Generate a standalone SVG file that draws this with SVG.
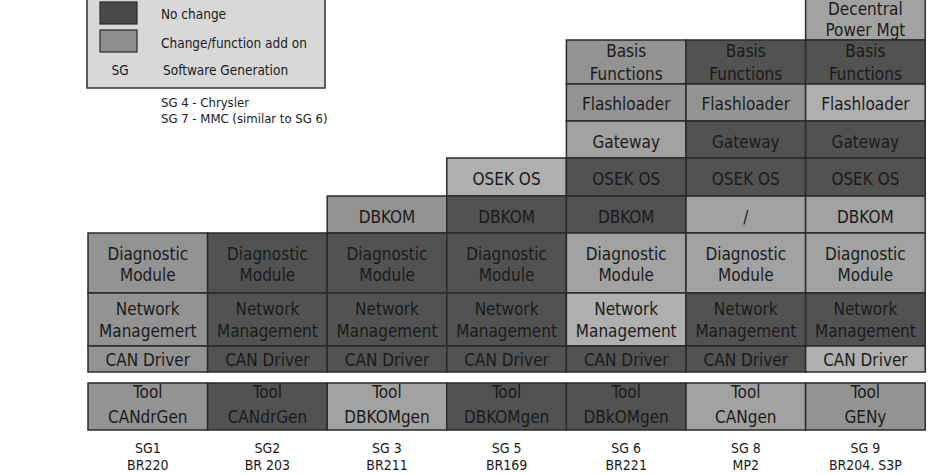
<svg xmlns="http://www.w3.org/2000/svg" width="932" height="475" viewBox="0 0 932 475">
<style>
text{font-family:"DejaVu Sans Condensed","DejaVu Sans",sans-serif;font-stretch:condensed;fill:#1a1a1a}
.c text{font-size:17px;text-anchor:middle}
.c rect{stroke:#2a2a2a;stroke-width:1.5}
.l{fill:#939393}.m{fill:#a2a2a2}.h{fill:#afafaf}.d{fill:#525252}
.lg{font-size:13.5px}
.nt{font-size:13px}
.sg{font-size:14px;text-anchor:middle}
</style>
<rect width="932" height="475" fill="#ffffff"/>
<g id="legend">
<rect x="87" y="-3" width="238" height="91" fill="#d8d8d8" stroke="#2f2f2f" stroke-width="1.5"/>
<rect x="100" y="2" width="37" height="22" fill="#4a4a4a" stroke="#2a2a2a" stroke-width="1.2"/>
<rect x="100" y="30" width="37" height="22" fill="#8e8e8e" stroke="#2a2a2a" stroke-width="1.2"/>
<text class="lg" x="161" y="18.5">No change</text>
<text class="lg" x="161" y="48">Change/function add on</text>
<text class="lg" x="120" y="75" text-anchor="middle">SG</text>
<text class="lg" x="163" y="75">Software Generation</text>
</g>
<g id="notes">
<text class="nt" x="161" y="106.5">SG 4 - Chrysler</text>
<text class="nt" x="161" y="122.5">SG 7 - MMC (similar to SG 6)</text>
</g>
<g class="c">
<!-- SG1 -->
<g id="sg1-diag"><rect class="l" x="88" y="233" width="119.6" height="60"/><text x="147.8" y="259.5">Diagnostic</text><text x="147.8" y="281">Module</text></g>
<g id="sg1-net"><rect class="l" x="88" y="293" width="119.6" height="53"/><text x="147.8" y="314.5">Network</text><text x="147.8" y="337">Managemert</text></g>
<g id="sg1-can"><rect class="l" x="88" y="346" width="119.6" height="26"/><text x="147.8" y="366">CAN Driver</text></g>
<g id="sg1-tool"><rect class="l" x="88" y="383" width="119.6" height="47"/><text x="147.8" y="398">Tool</text><text x="147.8" y="423">CANdrGen</text></g>
<!-- SG2 -->
<g id="sg2-diag"><rect class="d" x="207.6" y="233" width="119.6" height="60"/><text x="267.4" y="259.5">Diagnostic</text><text x="267.4" y="281">Module</text></g>
<g id="sg2-net"><rect class="d" x="207.6" y="293" width="119.6" height="53"/><text x="267.4" y="314.5">Network</text><text x="267.4" y="337">Management</text></g>
<g id="sg2-can"><rect class="d" x="207.6" y="346" width="119.6" height="26"/><text x="267.4" y="366">CAN Driver</text></g>
<g id="sg2-tool"><rect class="d" x="207.6" y="383" width="119.6" height="47"/><text x="267.4" y="398">Tool</text><text x="267.4" y="423">CANdrGen</text></g>
<!-- SG3 -->
<g id="sg3-dbk"><rect class="l" x="327.2" y="196" width="119.6" height="37"/><text x="387" y="222.5">DBKOM</text></g>
<g id="sg3-diag"><rect class="d" x="327.2" y="233" width="119.6" height="60"/><text x="387" y="259.5">Diagnostic</text><text x="387" y="281">Module</text></g>
<g id="sg3-net"><rect class="d" x="327.2" y="293" width="119.6" height="53"/><text x="387" y="314.5">Network</text><text x="387" y="337">Management</text></g>
<g id="sg3-can"><rect class="d" x="327.2" y="346" width="119.6" height="26"/><text x="387" y="366">CAN Driver</text></g>
<g id="sg3-tool"><rect class="m" x="327.2" y="383" width="119.6" height="47"/><text x="387" y="398">Tool</text><text x="387" y="423">DBKOMgen</text></g>
<!-- SG5 -->
<g id="sg5-osek"><rect class="h" x="446.8" y="158" width="119.6" height="38"/><text x="506.6" y="185">OSEK OS</text></g>
<g id="sg5-dbk"><rect class="d" x="446.8" y="196" width="119.6" height="37"/><text x="506.6" y="222.5">DBKOM</text></g>
<g id="sg5-diag"><rect class="d" x="446.8" y="233" width="119.6" height="60"/><text x="506.6" y="259.5">Diagnostic</text><text x="506.6" y="281">Module</text></g>
<g id="sg5-net"><rect class="d" x="446.8" y="293" width="119.6" height="53"/><text x="506.6" y="314.5">Network</text><text x="506.6" y="337">Management</text></g>
<g id="sg5-can"><rect class="d" x="446.8" y="346" width="119.6" height="26"/><text x="506.6" y="366">CAN Driver</text></g>
<g id="sg5-tool"><rect class="d" x="446.8" y="383" width="119.6" height="47"/><text x="506.6" y="398">Tool</text><text x="506.6" y="423">DBKOMgen</text></g>
<!-- SG6 -->
<g id="sg6-basis"><rect class="l" x="566.4" y="40" width="119.6" height="44"/><text x="626.2" y="57">Basis</text><text x="626.2" y="80">Functions</text></g>
<g id="sg6-flash"><rect class="l" x="566.4" y="84" width="119.6" height="37"/><text x="626.2" y="110">Flashloader</text></g>
<g id="sg6-gw"><rect class="m" x="566.4" y="121" width="119.6" height="37"/><text x="626.2" y="148">Gateway</text></g>
<g id="sg6-osek"><rect class="d" x="566.4" y="158" width="119.6" height="38"/><text x="626.2" y="185">OSEK OS</text></g>
<g id="sg6-dbk"><rect class="d" x="566.4" y="196" width="119.6" height="37"/><text x="626.2" y="222.5">DBKOM</text></g>
<g id="sg6-diag"><rect class="m" x="566.4" y="233" width="119.6" height="60"/><text x="626.2" y="259.5">Diagnostic</text><text x="626.2" y="281">Module</text></g>
<g id="sg6-net"><rect class="h" x="566.4" y="293" width="119.6" height="53"/><text x="626.2" y="314.5">Network</text><text x="626.2" y="337">Management</text></g>
<g id="sg6-can"><rect class="d" x="566.4" y="346" width="119.6" height="26"/><text x="626.2" y="366">CAN Driver</text></g>
<g id="sg6-tool"><rect class="d" x="566.4" y="383" width="119.6" height="47"/><text x="626.2" y="398">Tool</text><text x="626.2" y="423">DBkOMgen</text></g>
<!-- SG8 -->
<g id="sg8-basis"><rect class="d" x="686" y="40" width="119.6" height="44"/><text x="745.8" y="57">Basis</text><text x="745.8" y="80">Functions</text></g>
<g id="sg8-flash"><rect class="l" x="686" y="84" width="119.6" height="37"/><text x="745.8" y="110">Flashloader</text></g>
<g id="sg8-gw"><rect class="d" x="686" y="121" width="119.6" height="37"/><text x="745.8" y="148">Gateway</text></g>
<g id="sg8-osek"><rect class="d" x="686" y="158" width="119.6" height="38"/><text x="745.8" y="185">OSEK OS</text></g>
<g id="sg8-dbk"><rect class="m" x="686" y="196" width="119.6" height="37"/><text x="745.8" y="222.5">/</text></g>
<g id="sg8-diag"><rect class="m" x="686" y="233" width="119.6" height="60"/><text x="745.8" y="259.5">Diagnostic</text><text x="745.8" y="281">Module</text></g>
<g id="sg8-net"><rect class="d" x="686" y="293" width="119.6" height="53"/><text x="745.8" y="314.5">Network</text><text x="745.8" y="337">Management</text></g>
<g id="sg8-can"><rect class="d" x="686" y="346" width="119.6" height="26"/><text x="745.8" y="366">CAN Driver</text></g>
<g id="sg8-tool"><rect class="m" x="686" y="383" width="119.6" height="47"/><text x="745.8" y="398">Tool</text><text x="745.8" y="423">CANgen</text></g>
<!-- SG9 -->
<g id="sg9-dec"><rect class="m" x="805.6" y="-4" width="119.6" height="44"/><text x="865.4" y="14.5">Decentral</text><text x="865.4" y="35.5">Power Mgt</text></g>
<g id="sg9-basis"><rect class="d" x="805.6" y="40" width="119.6" height="44"/><text x="865.4" y="57">Basis</text><text x="865.4" y="80">Functions</text></g>
<g id="sg9-flash"><rect class="h" x="805.6" y="84" width="119.6" height="37"/><text x="865.4" y="110">Flashloader</text></g>
<g id="sg9-gw"><rect class="d" x="805.6" y="121" width="119.6" height="37"/><text x="865.4" y="148">Gateway</text></g>
<g id="sg9-osek"><rect class="d" x="805.6" y="158" width="119.6" height="38"/><text x="865.4" y="185">OSEK OS</text></g>
<g id="sg9-dbk"><rect class="m" x="805.6" y="196" width="119.6" height="37"/><text x="865.4" y="222.5">DBKOM</text></g>
<g id="sg9-diag"><rect class="m" x="805.6" y="233" width="119.6" height="60"/><text x="865.4" y="259.5">Diagnostic</text><text x="865.4" y="281">Module</text></g>
<g id="sg9-net"><rect class="d" x="805.6" y="293" width="119.6" height="53"/><text x="865.4" y="314.5">Network</text><text x="865.4" y="337">Management</text></g>
<g id="sg9-can"><rect class="h" x="805.6" y="346" width="119.6" height="26"/><text x="865.4" y="366">CAN Driver</text></g>
<g id="sg9-tool"><rect class="l" x="805.6" y="383" width="119.6" height="47"/><text x="865.4" y="398">Tool</text><text x="865.4" y="423">GENy</text></g>
</g>
<g id="labels">
<text class="sg" x="147.8" y="453">SG1</text><text class="sg" x="147.8" y="470">BR220</text>
<text class="sg" x="267.4" y="453">SG2</text><text class="sg" x="267.4" y="470">BR 203</text>
<text class="sg" x="387" y="453">SG 3</text><text class="sg" x="387" y="470">BR211</text>
<text class="sg" x="506.6" y="453">SG 5</text><text class="sg" x="506.6" y="470">BR169</text>
<text class="sg" x="626.2" y="453">SG 6</text><text class="sg" x="626.2" y="470">BR221</text>
<text class="sg" x="745.8" y="453">SG 8</text><text class="sg" x="745.8" y="470">MP2</text>
<text class="sg" x="865.4" y="453">SG 9</text><text class="sg" x="865.4" y="470">BR204. S3P</text>
</g>
<g id="connectors"/>
</svg>
